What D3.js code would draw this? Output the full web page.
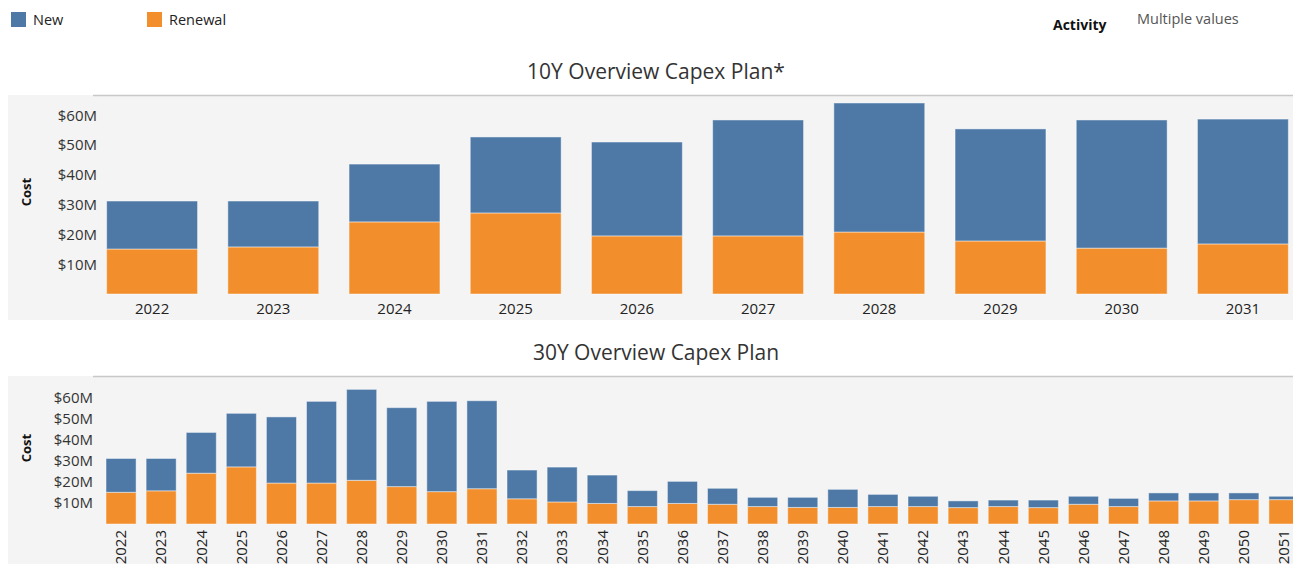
<!DOCTYPE html>
<html>
<head>
<meta charset="utf-8">
<script src="https://cdn.jsdelivr.net/npm/d3@7"></script>
<style>
  body { margin: 0; background: #fff; overflow: hidden; }
  svg text { font-family: "Open Sans", "Noto Sans", sans-serif; fill: #333; }
</style>
</head>
<body>
<svg id="canvas"></svg>
<script>
// values in $M
const years10 = ['2022','2023','2024','2025','2026','2027','2028','2029','2030','2031'];
const renewal10 = [15.1, 15.8, 24.2, 27.2, 19.5, 19.5, 20.8, 17.8, 15.4, 16.8];
const new10 = [16.1, 15.4, 19.4, 25.5, 31.5, 38.9, 43.3, 37.6, 43.0, 41.9];

const years30 = years10.concat(['2032','2033','2034','2035','2036','2037','2038','2039','2040','2041',
  '2042','2043','2044','2045','2046','2047','2048','2049','2050','2051']);
const renewal30 = renewal10.concat([12.0, 10.5, 9.8, 8.3, 9.8, 9.4, 8.3, 7.9, 7.9, 8.3,
  8.3, 7.8, 8.3, 7.8, 9.4, 8.3, 11.0, 11.0, 11.6, 11.6]);
const new30 = new10.concat([13.7, 16.6, 13.5, 7.6, 10.5, 7.6, 4.4, 4.8, 8.6, 5.8,
  4.9, 3.2, 3.1, 3.6, 3.8, 3.9, 3.8, 3.8, 3.2, 1.6]);

const yTicks = [10, 20, 30, 40, 50, 60];
const seriesNames = ['New', 'Renewal'];
const colors = { New: '#4e79a7', Renewal: '#f28e2b' };

const W = 1293, H = 564;
const svg = d3.select('#canvas').attr('width', W).attr('height', H);

// legend
const legend = svg.append('g');
seriesNames.forEach((s, i) => {
  const x = 11 + i * 136;
  legend.append('rect').attr('x', x).attr('y', 12).attr('width', 15).attr('height', 15).attr('fill', colors[s]);
  legend.append('text').attr('x', x + 22).attr('y', 25).style('font-size', '14.5px').style('fill', '#222').text(s);
});
svg.append('text').attr('x', 1053).attr('y', 30).style('font-size', '14px').style('font-weight', 'bold')
  .style('fill', '#111').text('Activity');
svg.append('text').attr('x', 1137).attr('y', 24).style('font-size', '14.5px').style('fill', '#555').text('Multiple values');

function drawPanel(opt) {
  const g = svg.append('g');
  g.append('rect').attr('x', 8).attr('y', opt.top).attr('width', W - 8).attr('height', opt.bottom - opt.top).attr('fill', '#f4f4f4');
  g.append('line').attr('x1', 93).attr('x2', W).attr('y1', opt.top + 0.5).attr('y2', opt.top + 0.5)
    .attr('stroke', '#c8c8c8').attr('stroke-width', 1.5);

  svg.append('text').attr('x', opt.titleX).attr('y', opt.titleY).attr('text-anchor', 'middle')
    .style('font-size', '21px').style('fill', '#333').text(opt.title);

  const x = d3.scaleBand().domain(opt.years).range(opt.xRange).paddingInner(0.25).paddingOuter(0.125);
  const y = d3.scaleLinear().domain([0, 10]).range([opt.base, opt.base - opt.per10]);

  const rows = opt.years.map((yr, i) => ({ year: yr, Renewal: opt.renewal[i], New: opt.newv[i] }));
  const stacked = d3.stack().keys(['Renewal', 'New'])(rows);

  g.selectAll('g.layer').data(stacked).enter().append('g').attr('class', 'layer')
    .attr('fill', d => colors[d.key])
    .selectAll('rect').data(d => d).enter().append('rect')
    .attr('x', d => x(d.data.year))
    .attr('width', x.bandwidth())
    .attr('y', d => y(d[1]))
    .attr('height', d => y(d[0]) - y(d[1]))
    .attr('stroke', 'rgba(255,255,255,0.45)').attr('stroke-width', 1);

  const yAxis = d3.axisLeft(y).tickValues(yTicks).tickSize(0).tickPadding(0).tickFormat(d => '$' + d + 'M');
  const ya = g.append('g').attr('transform', 'translate(' + opt.yAxisX + ',0)').call(yAxis);
  ya.select('.domain').remove();
  ya.selectAll('text').style('font-size', '15px').style('fill', '#333');

  const xAxis = d3.axisBottom(x).tickSize(0).tickPadding(0);
  const xa = g.append('g').attr('transform', 'translate(0,' + opt.base + ')').call(xAxis);
  xa.select('.domain').remove();
  if (opt.rotate) {
    xa.selectAll('text').attr('transform', 'rotate(-90)').attr('text-anchor', 'end')
      .attr('x', -6).attr('y', 0).attr('dy', '0.35em').style('font-size', '15px').style('fill', '#222');
  } else {
    xa.selectAll('text').attr('y', 9).attr('dy', '0.71em').style('font-size', '15px').style('fill', '#222');
  }

  g.append('text').attr('transform', 'translate(31,' + opt.costY + ') rotate(-90)')
    .attr('text-anchor', 'middle').style('font-size', '13px').style('font-weight', 'bold').style('fill', '#111')
    .text('Cost');
}

drawPanel({
  title: '10Y Overview Capex Plan*', titleX: 656, titleY: 79,
  top: 95, bottom: 320, base: 294, per10: 29.8,
  years: years10, renewal: renewal10, newv: new10,
  xRange: [91.5, 1303.5], yAxisX: 97, costY: 192, rotate: false
});

drawPanel({
  title: '30Y Overview Capex Plan', titleX: 656, titleY: 360,
  top: 376, bottom: H, base: 524, per10: 21,
  years: years30, renewal: renewal30, newv: new30,
  xRange: [101, 1304], yAxisX: 93, costY: 448, rotate: true
});
</script>
</body>
</html>
